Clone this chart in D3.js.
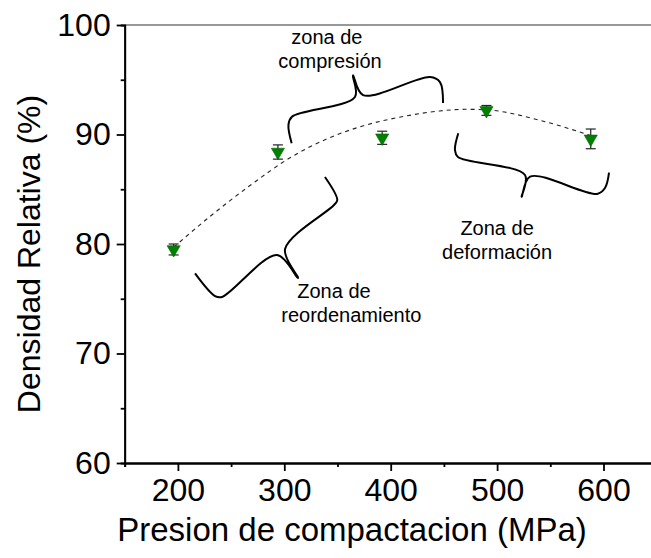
<!DOCTYPE html>
<html>
<head>
<meta charset="utf-8">
<script src="https://cdn.jsdelivr.net/npm/d3@7"></script>
<style>
  body { margin: 0; background: #fff; }
  svg { display: block; font-family: "Liberation Sans", Arial, sans-serif; }
</style>
</head>
<body>
<div id="chart"></div>
<script>
// measured points (pressure in MPa, relative density in %)
const pressure = [196, 294, 392, 490, 588];
const density = [79.5, 88.4, 89.7, 92.2, 89.6];
const densityErr = [0.5, 0.65, 0.6, 0.45, 0.9];

// dashed trend curve
const fitX = [196, 230, 270, 305, 340, 371, 415, 446, 470, 490, 540, 588];
const fitY = [79.7, 82.5, 85.5, 87.85, 89.6, 90.7, 91.7, 92.15, 92.3, 92.25, 91.3, 89.9];

const xMajor = [200, 300, 400, 500, 600];
const xMinor = [150, 250, 350, 450, 550, 650];
const yMajor = [60, 70, 80, 90, 100];
const yMinor = [65, 75, 85, 95];

// braces, in data units
const braceCompresion = [[306.9, 89.2], [303.9, 90.87], [307.2, 91.63], [366.4, 93.42], [364.5, 95.4],
                         [374, 93.6], [436.9, 95.25], [446.3, 94.79], [449.2, 92.88]];
const braceDeformacion = [[463.5, 90.11], [460.4, 88.58], [463.2, 87.95], [526.2, 86.3], [523.1, 84.32],
                          [531, 86.15], [594, 84.57], [601.4, 85.11], [605.2, 86.51]];
const braceReorden = [[216.1, 77.32], [234.9, 75.25], [241.4, 75.16], [293.1, 78.99], [312.9, 76.9],
                      [300.7, 79.54], [346.7, 83.56], [349.8, 84.02], [338.2, 86.12]];

const labels = [
    { lines: ["zona de", "compresión"], x: [340, 343], y: [98.25, 96.05] },
    { lines: ["Zona de", "deformación"], x: [500, 500], y: [80.8, 78.6] },
    { lines: ["Zona de", "reordenamiento"], x: [346.7, 363], y: [75.1, 72.9] }
];

const W = 651, H = 558;
const margin = { top: 25, left: 124.7 };
const width = 532, height = 438;

const svg = d3.select("#chart").append("svg")
    .attr("width", W)
    .attr("height", H);

const g = svg.append("g")
    .attr("transform", "translate(" + margin.left + "," + margin.top + ")");

const x = d3.scaleLinear().domain([150, 650]).range([0, width]);
const y = d3.scaleLinear().domain([60, 100]).range([height, 0]);

// top frame line
g.append("line")
    .attr("x1", 0).attr("x2", width)
    .attr("y1", 0).attr("y2", 0)
    .attr("stroke", "#333").attr("stroke-width", 1.2);

function styleAxis(sel) {
    sel.select(".domain").attr("stroke", "#000").attr("stroke-width", 1.8);
    sel.selectAll(".tick line").attr("stroke", "#000").attr("stroke-width", 1.8);
    sel.selectAll(".tick text").attr("font-size", "32px").attr("fill", "#000")
        .attr("font-family", "Liberation Sans, Arial, sans-serif");
}

g.append("g")
    .attr("transform", "translate(0," + height + ")")
    .call(d3.axisBottom(x).tickValues(xMinor).tickSize(4).tickFormat(""))
    .call(styleAxis);
g.append("g")
    .attr("transform", "translate(0," + height + ")")
    .call(d3.axisBottom(x).tickValues(xMajor).tickSize(8).tickPadding(7).tickSizeOuter(0))
    .call(styleAxis);

g.append("g")
    .call(d3.axisLeft(y).tickValues(yMinor).tickSize(4).tickFormat(""))
    .call(styleAxis);
g.append("g")
    .call(d3.axisLeft(y).tickValues(yMajor).tickSize(8).tickPadding(6).tickSizeOuter(0))
    .call(styleAxis);

// axis titles
svg.append("text")
    .attr("x", 352)
    .attr("y", 541)
    .attr("text-anchor", "middle")
    .attr("font-size", "33px")
    .text("Presion de compactacion (MPa)");

svg.append("text")
    .attr("transform", "translate(40," + 254 + ")rotate(-90)")
    .attr("text-anchor", "middle")
    .attr("font-size", "32px")
    .text("Densidad Relativa (%)");

// dashed trend curve
const fitLine = d3.line()
    .x((d, i) => x(fitX[i]))
    .y(d => y(d))
    .curve(d3.curveMonotoneX);

g.append("path")
    .datum(fitY)
    .attr("d", fitLine)
    .attr("fill", "none")
    .attr("stroke", "#222")
    .attr("stroke-width", 1.1)
    .attr("stroke-dasharray", "4,4");

// braces
const braceLine = d3.line()
    .x(d => x(d[0]))
    .y(d => y(d[1]))
    .curve(d3.curveCatmullRom.alpha(0.5));

[braceCompresion, braceDeformacion, braceReorden].forEach(b => {
    g.append("path")
        .datum(b)
        .attr("d", braceLine)
        .attr("fill", "none")
        .attr("stroke", "#000")
        .attr("stroke-width", 2)
        .attr("stroke-linejoin", "round");
});

// error bars
const pts = pressure.map((p, i) => ({ p: p, v: density[i], e: densityErr[i] }));

const err = g.selectAll(".err")
    .data(pts)
    .enter().append("g")
    .attr("class", "err")
    .attr("stroke", "#222")
    .attr("stroke-width", 1.2);

err.append("line")
    .attr("x1", d => x(d.p)).attr("x2", d => x(d.p))
    .attr("y1", d => y(d.v - d.e)).attr("y2", d => y(d.v + d.e));
err.append("line")
    .attr("x1", d => x(d.p) - 5).attr("x2", d => x(d.p) + 5)
    .attr("y1", d => y(d.v + d.e)).attr("y2", d => y(d.v + d.e));
err.append("line")
    .attr("x1", d => x(d.p) - 5).attr("x2", d => x(d.p) + 5)
    .attr("y1", d => y(d.v - d.e)).attr("y2", d => y(d.v - d.e));

// down triangles
g.selectAll(".pt")
    .data(pts)
    .enter().append("path")
    .attr("class", "pt")
    .attr("d", d3.symbol().type(d3.symbolTriangle).size(75))
    .attr("transform", d => "translate(" + x(d.p) + "," + y(d.v) + ")rotate(180)")
    .attr("fill", "#008000")
    .attr("stroke", "#006400")
    .attr("stroke-width", 0.6);

// annotation text
labels.forEach(l => {
    l.lines.forEach((t, i) => {
        g.append("text")
            .attr("x", x(l.x[i]))
            .attr("y", y(l.y[i]))
            .attr("text-anchor", "middle")
            .attr("font-size", "20px")
            .text(t);
    });
});
</script>
</body>
</html>
